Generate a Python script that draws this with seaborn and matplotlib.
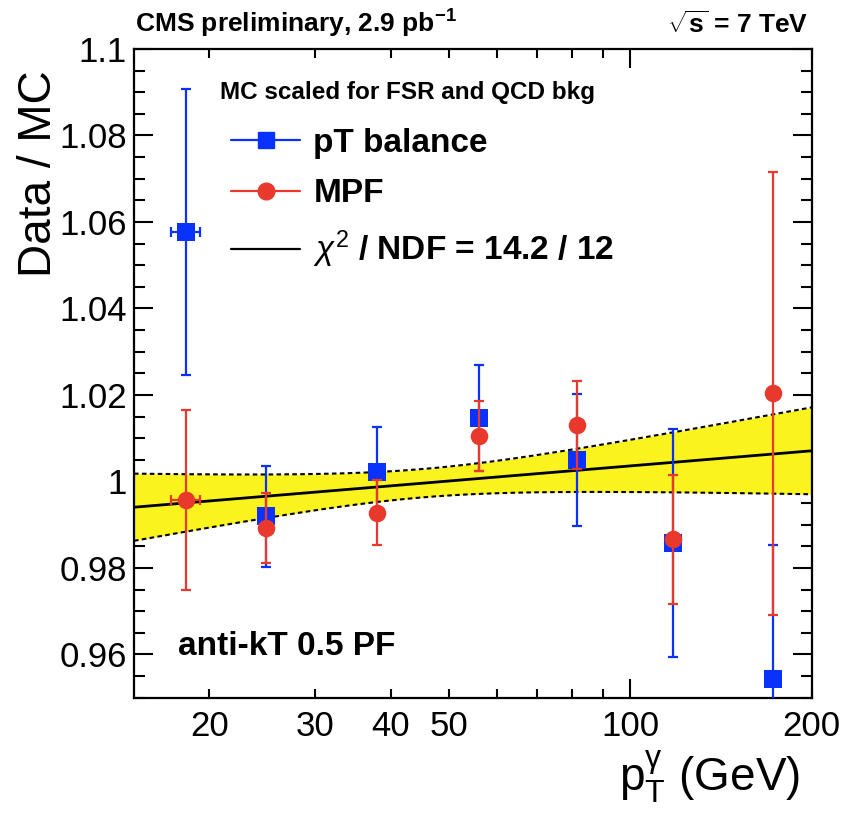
import numpy as np
import pandas as pd
import matplotlib
matplotlib.use("Agg")
import matplotlib.pyplot as plt
from matplotlib.lines import Line2D
from matplotlib.ticker import FixedLocator, FixedFormatter, FormatStrFormatter, MultipleLocator
import seaborn as sns

# Photon pT bins (GeV) and the two data/MC response ratios
pt = [18.3, 24.8, 38.0, 56.0, 81.5, 117.8, 172.5]
balance = [1.0577, 0.9919, 1.0023, 1.0147, 1.0050, 0.9857, 0.9543]
balance_err = [0.0330, 0.0117, 0.0104, 0.0122, 0.0153, 0.0264, 0.0311]
mpf = [0.9957, 0.9892, 0.9928, 1.0105, 1.0131, 0.9866, 1.0204]
mpf_err = [0.0208, 0.0081, 0.0075, 0.0081, 0.0102, 0.0150, 0.0512]
pt_err = [1.0, 0, 0, 0, 0, 0, 0]

# Linear fit in log10(pT): y = intercept + slope * log10(pT)
fit_intercept = 0.9804
fit_slope = 0.0116
fit_pivot = 1.655        # log10(pT) where the fit uncertainty is smallest
fit_sigma_pivot = 0.00328
fit_sigma_slope = 0.0147
fit_label = r"$\chi^{2}$ / NDF = 14.2 / 12"

x_ticks_major = [100]
x_ticks_minor = [20, 30, 40, 50, 60, 70, 80, 90, 200]
x_minor_labels = ["20", "30", "40", "50", "", "", "", "", "200"]

BLUE = "#0a32ff"
RED = "#e8392c"
YELLOW = "#fbf31e"

sns.set_theme(style="ticks")
plt.rcParams["font.family"] = ["Liberation Sans", "DejaVu Sans"]
plt.rcParams["mathtext.fontset"] = "custom"
plt.rcParams["mathtext.rm"] = "Liberation Sans"
plt.rcParams["mathtext.it"] = "Liberation Sans:italic"
plt.rcParams["mathtext.bf"] = "Liberation Sans:bold"
plt.rcParams["text.color"] = "black"
plt.rcParams["axes.labelcolor"] = "black"
plt.rcParams["xtick.color"] = "black"
plt.rcParams["ytick.color"] = "black"

fig = plt.figure(figsize=(8.46, 8.13), dpi=100)
ax = fig.add_axes([134 / 846, 1 - 697.7 / 813, 677.7 / 846, 648.7 / 813])
ax.set_xscale("log")
ax.set_xlim(15, 200)
ax.set_ylim(0.95, 1.1)

# Fit with its uncertainty band
lx = np.linspace(np.log10(15), np.log10(200), 200)
fit_df = pd.DataFrame({"pt": 10 ** lx, "ratio": fit_intercept + fit_slope * lx})
sigma = np.sqrt(fit_sigma_pivot ** 2 + (fit_sigma_slope * (lx - fit_pivot)) ** 2)
ax.fill_between(fit_df["pt"], fit_df["ratio"] - sigma, fit_df["ratio"] + sigma,
                color=YELLOW, lw=0, zorder=1)
for sgn in (-1, 1):
    ax.plot(fit_df["pt"], fit_df["ratio"] + sgn * sigma, color="black", lw=1.5,
            ls=(0, (2.2, 1.6)), zorder=2)
sns.lineplot(data=fit_df, x="pt", y="ratio", color="black", lw=2.0, ax=ax, zorder=3)

data = pd.DataFrame({"pt": pt, "balance": balance, "mpf": mpf})

# pT balance
ax.errorbar(pt, balance, yerr=balance_err, xerr=pt_err, fmt="none", ecolor=BLUE,
            elinewidth=1.6, capsize=3.6, capthick=1.6, zorder=4)
sns.scatterplot(data=data, x="pt", y="balance", marker="s", s=160, color=BLUE,
                edgecolor=BLUE, linewidth=0, ax=ax, zorder=5)
# MPF
ax.errorbar(pt, mpf, yerr=mpf_err, xerr=pt_err, fmt="none", ecolor=RED,
            elinewidth=1.6, capsize=3.6, capthick=1.6, zorder=6)
sns.scatterplot(data=data, x="pt", y="mpf", marker="o", s=160, color=RED,
                edgecolor=RED, linewidth=0, ax=ax, zorder=7)

ax.set_xlabel("")
ax.set_ylabel("")

# Axes styling (inside ticks on all four sides)
for sp in ax.spines.values():
    sp.set_visible(True)
    sp.set_linewidth(1.6)
    sp.set_color("black")
ax.xaxis.set_major_locator(FixedLocator(x_ticks_major))
ax.xaxis.set_major_formatter(FixedFormatter(["100"]))
ax.xaxis.set_minor_locator(FixedLocator(x_ticks_minor))
ax.xaxis.set_minor_formatter(FixedFormatter(x_minor_labels))
ax.yaxis.set_major_locator(MultipleLocator(0.02))
ax.yaxis.set_minor_locator(MultipleLocator(0.005))
ax.yaxis.set_major_formatter(FormatStrFormatter("%g"))
ax.tick_params(which="both", direction="in", top=True, right=True, color="black",
               width=1.5, labelsize=25, labelcolor="black")
ax.tick_params(axis="x", which="major", length=14, pad=9)
ax.tick_params(axis="x", which="minor", length=6.5, pad=9)
ax.tick_params(axis="y", which="major", length=14, pad=5)
ax.tick_params(axis="y", which="minor", length=8, pad=5)

ax.set_ylabel("Data / MC", fontsize=33, loc="top", color="black")
ax.yaxis.set_label_coords(-0.108, 0.9676)
ax.set_xlabel(r"$\mathregular{p_{T}^{\gamma}}$ (GeV)", fontsize=33, loc="right", color="black")
ax.xaxis.set_label_coords(0.9827, -0.1423)
ax.xaxis.label.set_va("baseline")

# Header texts
ax.text(0.0015, 1.0247, r"CMS preliminary, 2.9 pb$^{\mathbf{-1}}$", transform=ax.transAxes,
        fontsize=19, fontweight="bold", ha="left", va="baseline", color="black")
ax.text(0.9946, 1.0247, r"$\sqrt{\mathbf{s}}$ = 7 TeV", transform=ax.transAxes,
        fontsize=19, fontweight="bold", ha="right", va="baseline", color="black")
ax.text(0.1269, 0.9322, "MC scaled for FSR and QCD bkg", transform=ax.transAxes,
        fontsize=17.5, fontweight="bold", ha="left", va="center", color="black")
ax.text(0.0649, 0.0658, "anti-kT 0.5 PF", transform=ax.transAxes,
        fontsize=24, fontweight="bold", ha="left", va="baseline", color="black")

handles = [
    Line2D([], [], color=BLUE, marker="s", markersize=12, lw=1.6),
    Line2D([], [], color=RED, marker="o", markersize=12, lw=1.6),
    Line2D([], [], color="black", lw=1.6),
]
labels = ["pT balance", "MPF", fit_label]
leg = ax.legend(handles, labels, loc="upper left", bbox_to_anchor=(0.1431, 0.878),
                frameon=False, borderpad=0, borderaxespad=0, handlelength=2.08,
                handletextpad=0.39, labelspacing=0.58,
                prop={"size": 24, "weight": "bold"})
for t in leg.get_texts():
    t.set_color("black")

fig.savefig("out.png", dpi=100)
